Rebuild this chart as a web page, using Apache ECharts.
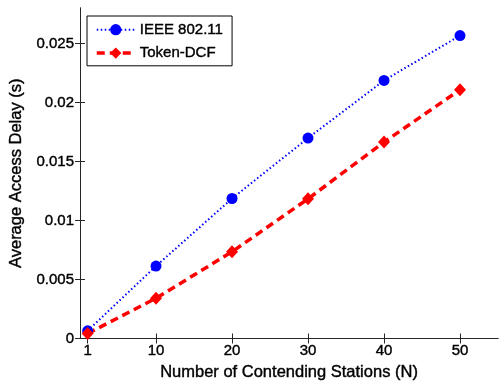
<!DOCTYPE html>
<html>
<head>
<meta charset="utf-8">
<script src="https://cdn.jsdelivr.net/npm/echarts@6/dist/echarts.min.js"></script>
<style>
  html, body { margin: 0; padding: 0; background: #fff; }
  #chart { width: 499px; height: 386px; }
</style>
</head>
<body>
<div id="chart"></div>
<script>
// stations on the x axis
var stations = [1, 10, 20, 30, 40, 50];
// average access delay (s)
var ieeeDelay  = [0.00065, 0.00614, 0.01186, 0.01698, 0.02186, 0.02566];
var tokenDelay = [0.00042, 0.00341, 0.00735, 0.01183, 0.01664, 0.02107];
// tick values
var xTicks = [1, 10, 20, 30, 40, 50];
var yTicks = [0, 0.005, 0.01, 0.015, 0.02, 0.025];

var fontFam = 'Liberation Sans, Arial, sans-serif';
var axisCol = '#262626';
// slightly heavier text, like the matlab export
var txt = { color: '#000', fontFamily: fontFam, textBorderColor: '#000', textBorderWidth: 0.4 };

var blueDots = [1.5, 2.5];
var redDash = [8, 5];

function pairs(xs, ys) {
  return xs.map(function (x, i) { return [x, ys[i]]; });
}
function ts(size) {
  return Object.assign({ fontSize: size }, txt);
}

var myChart = echarts.init(document.getElementById('chart'));

var option = {
  animation: false,
  backgroundColor: '#fff',
  textStyle: { fontFamily: fontFam },
  grid: { left: 76, right: 1, top: 8, bottom: 43 },
  legend: {
    orient: 'vertical',
    left: 87, top: 16,
    padding: [6, 9, 5, 8],
    itemGap: 8,
    itemWidth: 38,
    itemHeight: 14,
    backgroundColor: '#fff',
    borderColor: '#000',
    borderWidth: 1,
    textStyle: ts(15),
    data: [
      { name: 'IEEE 802.11', lineStyle: { type: blueDots, width: 2 } },
      { name: 'Token-DCF', lineStyle: { type: redDash, width: 3.5 } }
    ]
  },
  xAxis: [{
    type: 'value', min: 0, max: 55,
    name: 'Number of Contending Stations (N)',
    nameLocation: 'middle', nameGap: 22,
    nameTextStyle: ts(16.5),
    axisLine: { lineStyle: { color: axisCol, width: 1 } },
    axisTick: { inside: true, length: 5, customValues: xTicks, lineStyle: { color: axisCol } },
    axisLabel: Object.assign({ customValues: xTicks, margin: 5 }, ts(15)),
    splitLine: { show: false }
  }, {
    type: 'value', min: 0, max: 55, position: 'top',
    axisLine: { lineStyle: { color: axisCol, width: 1 } },
    axisTick: { inside: true, length: 5, customValues: xTicks, lineStyle: { color: axisCol } },
    axisLabel: { show: false },
    splitLine: { show: false }
  }],
  yAxis: [{
    type: 'value', min: 0, max: 0.028,
    name: 'Average Access Delay (s)',
    nameLocation: 'middle', nameGap: 48,
    nameTextStyle: ts(16.5),
    axisLine: { show: true, lineStyle: { color: axisCol, width: 1 } },
    axisTick: { show: true, inside: true, length: 5, customValues: yTicks, lineStyle: { color: axisCol } },
    axisLabel: Object.assign({ customValues: yTicks, margin: 6 }, ts(15)),
    splitLine: { show: false }
  }, {
    type: 'value', min: 0, max: 0.028, position: 'right',
    axisLine: { show: true, lineStyle: { color: axisCol, width: 1 } },
    axisTick: { show: true, inside: true, length: 5, customValues: yTicks, lineStyle: { color: axisCol } },
    axisLabel: { show: false },
    splitLine: { show: false }
  }],
  series: [{
    name: 'IEEE 802.11',
    type: 'line',
    data: pairs(stations, ieeeDelay),
    color: '#0000ff',
    symbol: 'circle',
    symbolSize: 11,
    showAllSymbol: true,
    lineStyle: { color: '#0000ff', width: 2, type: blueDots },
    itemStyle: { color: '#0000ff' }
  }, {
    name: 'Token-DCF',
    type: 'line',
    data: pairs(stations, tokenDelay),
    color: '#ff0000',
    symbol: 'diamond',
    symbolSize: [12, 13],
    showAllSymbol: true,
    lineStyle: { color: '#ff0000', width: 3.5, type: redDash },
    itemStyle: { color: '#ff0000' }
  }]
};

myChart.setOption(option);
</script>
</body>
</html>
